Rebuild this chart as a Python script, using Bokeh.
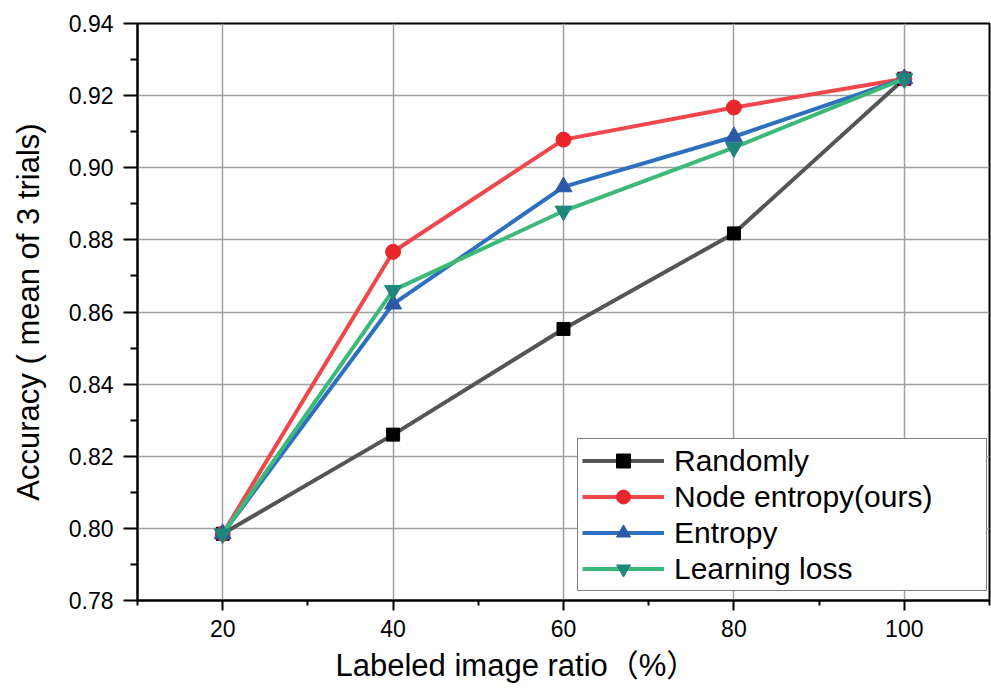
from bokeh.plotting import figure
from bokeh.models import FixedTicker, Range1d, PrintfTickFormatter, Title, Legend, LegendItem
from bokeh.embed import file_html
from bokeh.resources import INLINE

ratios = [20, 40, 60, 80, 100]
randomly = [0.7985, 0.8260, 0.8553, 0.8818, 0.9247]
node_entropy = [0.7985, 0.8767, 0.9078, 0.9167, 0.9247]
entropy = [0.7985, 0.8622, 0.8947, 0.9086, 0.9247]
learning_loss = [0.7985, 0.8660, 0.8880, 0.9056, 0.9247]

x_major = [20, 40, 60, 80, 100]
x_minor = [10, 30, 50, 70, 90, 110]
y_major = [0.78, 0.80, 0.82, 0.84, 0.86, 0.88, 0.90, 0.92, 0.94]
y_minor = [0.79, 0.81, 0.83, 0.85, 0.87, 0.89, 0.91, 0.93]

FONT = "Liberation Sans, Arial, Noto Sans CJK SC"

p = figure(width=991, height=688, x_range=Range1d(10, 110), y_range=Range1d(0.78, 0.94),
           output_backend="svg", toolbar_location=None,
           min_border_left=137, min_border_right=2, min_border_top=23, min_border_bottom=87)

p.outline_line_color = "black"
p.outline_line_width = 2
p.outline_line_alpha = 1

p.xgrid.grid_line_color = "#a0a0a0"
p.ygrid.grid_line_color = "#a0a0a0"
p.xgrid.grid_line_width = 1.5
p.ygrid.grid_line_width = 1.5

p.xaxis.ticker = FixedTicker(ticks=x_major, minor_ticks=x_minor)
p.yaxis.ticker = FixedTicker(ticks=y_major, minor_ticks=y_minor)
p.yaxis.formatter = PrintfTickFormatter(format="%.2f")

for ax in (p.xaxis[0], p.yaxis[0]):
    ax.axis_line_color = "black"
    ax.axis_line_width = 2
    ax.major_tick_line_color = "black"
    ax.major_tick_line_width = 2
    ax.minor_tick_line_color = "black"
    ax.minor_tick_line_width = 2
    ax.major_tick_in = 0
    ax.minor_tick_in = 0
    ax.major_label_text_font = FONT
    ax.major_label_text_font_size = "23px"
    ax.major_label_text_color = "black"
    ax.axis_label_text_font = FONT
    ax.axis_label_text_font_style = "normal"
    ax.axis_label_text_color = "black"

p.yaxis.major_tick_out = 14
p.yaxis.minor_tick_out = 7
p.yaxis.major_label_standoff = 10
p.yaxis.axis_label = "Accuracy ( mean of 3 trials)"
p.yaxis.axis_label_text_font_size = "31px"
p.yaxis.axis_label_standoff = 20

p.xaxis.major_tick_out = 10
p.xaxis.minor_tick_out = 5
p.xaxis.major_label_standoff = 9

p.add_layout(Title(text="Labeled image ratio\uff08%\uff09", align="left", offset=198,
                   text_font=FONT, text_font_size="31px", text_font_style="normal",
                   text_color="black", standoff=12, text_line_height=0.8), "below")

series = [
    ("Randomly", randomly, "#555555", "#000000", "square", 13),
    ("Node entropy(ours)", node_entropy, "#f0474d", "#e8262b", "circle", 15),
    ("Entropy", entropy, "#2f6fbf", "#2c5aa8", "triangle", 17),
    ("Learning loss", learning_loss, "#3cb878", "#1f867d", "inverted_triangle", 17),
]

items = []
for name, ys, lc, mc, marker, size in series:
    r1 = p.line(ratios, ys, line_color=lc, line_width=4)
    r2 = p.scatter(ratios, ys, marker=marker, size=size, fill_color=mc, line_color=mc)
    items.append(LegendItem(label=name, renderers=[r1, r2]))

legend = Legend(items=items, location=(440, 9), margin=0, padding=4, spacing=1,
                glyph_width=82, glyph_height=35, label_height=35, label_width=308,
                label_standoff=10, label_text_font=FONT, label_text_font_size="30px",
                label_text_color="black", border_line_color="black", border_line_width=1.5,
                background_fill_color="white", background_fill_alpha=1)
p.add_layout(legend)

open("out.html", "w").write(file_html(p, INLINE))
